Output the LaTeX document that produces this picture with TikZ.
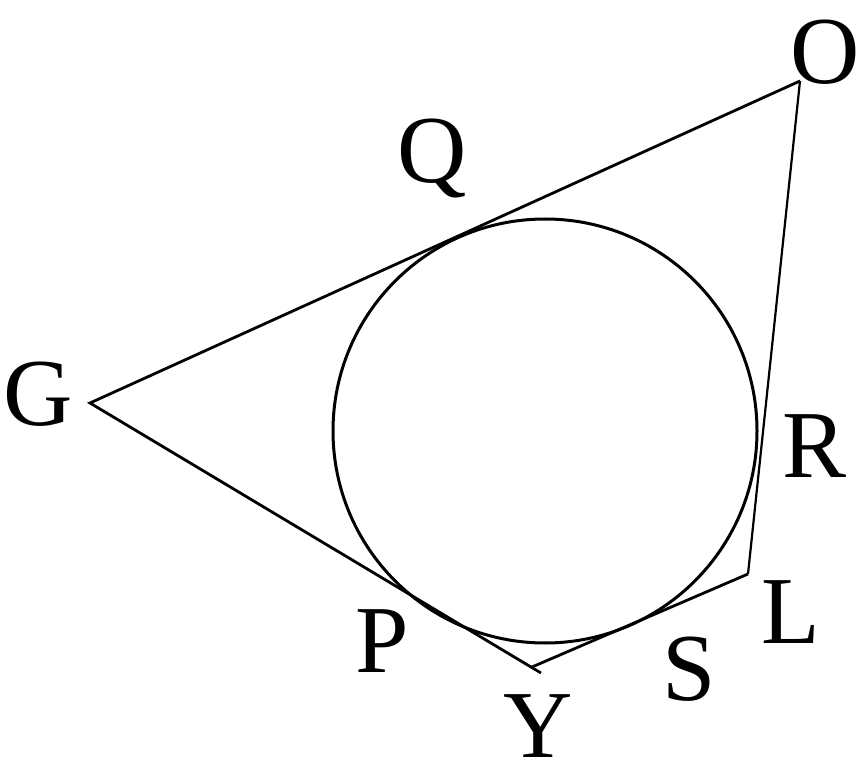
\documentclass[tikz,border=0pt]{standalone}
\usepackage{fontspec}
\setmainfont{Liberation Serif}
\begin{document}
\begin{tikzpicture}[x=1pt,y=-1pt,
  edge/.style={line width=2.8pt, line join=miter},
  thinedge/.style={line width=2.2pt},
  lbl/.style={anchor=base, inner sep=0pt, font=\fontsize{96}{100}\selectfont}]
\useasboundingbox (0,0) rectangle (860,767);
% vertices
\coordinate (G) at (90,403);
\coordinate (O) at (800,81);
\coordinate (L) at (748,574);
\coordinate (Y) at (532,667);
\coordinate (Yend) at (541,673);
\coordinate (C) at (545,431);
% circle
\draw[line width=3pt] (C) circle[radius=212];
% sides
\draw[edge] (Yend) -- (G) -- (O);
\draw[thinedge] (O) -- (L);
\draw[edge] (L) -- (Y);
% labels
\node[lbl] (lO) at (825,84) {O};
\node[lbl] (lQ) at (432,183) {Q};
\node[lbl] (lG) at (38,425) {G};
\node[lbl] (lR) at (815,477) {R};
\node[lbl] (lL) at (791,643) {L};
\node[lbl] (lS) at (689,700) {S};
\node[lbl] (lP) at (382,672) {P};
\node[lbl, text depth=0pt, text height=64pt] (lY) at (538,757) {Y};
\end{tikzpicture}
\end{document}
